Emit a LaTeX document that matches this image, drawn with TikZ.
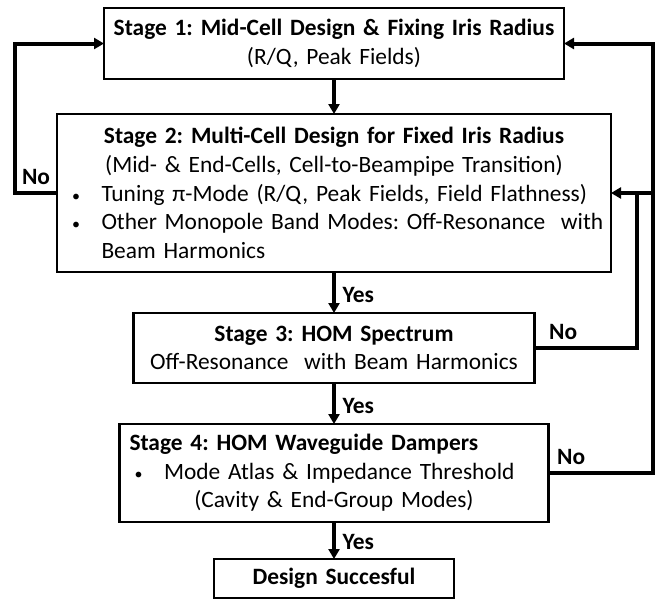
\documentclass[tikz,border=0pt]{standalone}
\usepackage{fontspec}
\setmainfont{Carlito}
\usepackage{tikz}
\usetikzlibrary{arrows.meta, positioning}
\frenchspacing
\tikzstyle{stage}  = [rectangle, draw, line width=1.3pt, inner xsep=0pt, inner ysep=0pt,
                      outer sep=0pt, align=left, font=\fontsize{11.7}{14.3}\selectfont]
\tikzstyle{answer} = [font=\fontsize{11.7}{14.3}\selectfont\bfseries]
\tikzstyle{arrow}  = [-{Triangle[length=5pt,width=5.5pt]}, line width=2pt]
\tikzstyle{wire}   = [line width=2pt]
\newcommand{\bulitem}[1]{\hspace*{7.5pt}\makebox[14.75pt][l]{\fontsize{8}{8}\selectfont\textbullet}#1\par}

\begin{document}
\begin{tikzpicture}
  \useasboundingbox (0,0) rectangle (331.5pt,-300.5pt);

  % Stages
  \node[stage, text width=230pt, minimum height=35.5pt] (st1) at (167pt,-21.75pt)
    {{\centering\textbf{Stage 1: Mid-Cell Design \& Fixing Iris Radius}\par
      (R/Q, Peak Fields)\par}};
  \node[stage, text width=277pt, minimum height=79pt, below=17.5pt of st1] (st2)
    {{\centering\textbf{Stage 2: Multi-Cell Design for Fixed Iris Radius}\par
      (Mid- \& End-Cells, Cell-to-Beampipe Transition)\par}
     \bulitem{Tuning π-Mode (R/Q, Peak Fields, Field Flathness)}
     \bulitem{Other Monopole Band Modes: Off-Resonance\ \ with}
     \hspace*{22.25pt}Beam Harmonics};
  \node[stage, text width=200.5pt, minimum height=35pt, below=20.5pt of st2] (st3)
    {{\centering\textbf{Stage 3: HOM Spectrum}\par
      Off-Resonance\ \ with Beam Harmonics\par}};
  \node[stage, text width=214.5pt, minimum height=49pt, below=20.5pt of st3] (st4)
    {\hspace*{5pt}\textbf{Stage 4: HOM Waveguide Dampers}\par
     \bulitem{Mode Atlas \& Impedance Threshold}
     {\centering (Cavity \& End-Group Modes)\par}};
  \node[stage, text width=120pt, minimum height=19.5pt, below=18.5pt of st4] (done)
    {{\centering\textbf{Design Succesful}\par}};

  % Feedback lines
  \coordinate (outer) at (326.25pt,0);
  \coordinate (inner) at (318.5pt,0);

  % Forward arrows
  \draw[arrow] (st1) -- (st2);
  \draw[arrow] (st2) -- node[answer, right, pos=0.55] {Yes} (st3);
  \draw[arrow] (st3) -- node[answer, right, pos=0.55] {Yes} (st4);
  \draw[arrow] (st4) -- node[answer, right, pos=0.55] {Yes} (done);

  % Return arrows
  \draw[arrow] (st2.west) -- ++(-21pt,0) node[answer, above, midway] {No} |- (st1.west);
  \draw[wire] (st3.east) node[answer, above right, xshift=3pt] {No} -| (st2.east -| inner);
  \draw[arrow] (st2.east -| outer) -- (st2.east);
  \draw[arrow] (st4.east) node[answer, above right] {No} -- (st4.east -| outer) |- (st1.east);
\end{tikzpicture}
\end{document}
